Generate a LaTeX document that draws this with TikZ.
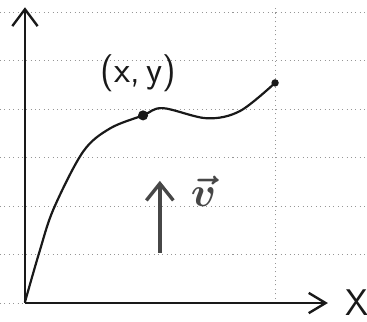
\documentclass[tikz,border=0pt]{standalone}
\usepackage{amsmath,amssymb}
\usepackage{tikz}
\usetikzlibrary{arrows.meta, positioning, calc}
\usepackage{xcolor}
\definecolor{gridgray}{RGB}{150, 150, 150}
\definecolor{inkblack}{RGB}{25, 25, 25}

\begin{document}
\begin{tikzpicture}[x=1cm, y=1.01cm,
  axis/.style={inkblack, line width=1.6pt, -{Straight Barb[length=10pt, width=15pt, line width=1.4pt]}},
  gridline/.style={gridgray, line width=0.6pt, dotted},
  curveline/.style={inkblack, line width=1.3pt},
  hand/.style={font=\sffamily\fontsize{22}{24}\selectfont, inkblack}]
  \useasboundingbox (-0.52,-0.39) rectangle (7.125,6.25);

  % 点线网格
  \foreach \gy in {1,...,6}
    \draw[gridline] (-0.52,\gy) -- (7.125,\gy);
  \draw[gridline] (-0.52,0) -- (0,0);
  \draw[gridline] (5.21,0) -- (5.21,6.1);

  % 坐标轴
  \coordinate (O) at (0,0);
  \coordinate (ytip) at (0,6.1);
  \coordinate (xtip) at (6.31,0);
  \draw[axis] (O) -- (ytip);
  \draw[axis, -{Straight Barb[length=10pt, width=12pt, line width=1.4pt]}] (O) -- (xtip);
  \node[hand, right=0.25cm of xtip] (xlab) {X};

  % 曲线 y(x)
  \coordinate (P) at (2.46,3.87);
  \coordinate (E) at (5.21,4.54);
  \draw[curveline] plot[smooth, tension=0.55] coordinates
    {(0,0.02) (0.3,1.05) (0.6,1.95) (1.21,3.12) (1.77,3.6) (2.46,3.87)
     (2.87,4.02) (3.79,3.81) (4.48,3.96) (5.21,4.54)};
  \fill[inkblack] (P) circle (3pt);
  \fill[inkblack] (E) circle (2.2pt);
  \node[hand] (plab) at (2.36,4.74) {(x,\,y)};

  % 速度方向
  \coordinate (vbot) at (2.81,1.04);
  \coordinate (vtop) at (2.81,2.52);
  \draw[inkblack!80, line width=2.2pt, -{Straight Barb[length=10pt, width=16pt, line width=2pt]}]
    (vbot) -- (vtop);
  \node[inkblack!80, font=\fontsize{30}{32}\selectfont] (vlab) at (3.72,2.3) {$\boldsymbol{\vec{v}}$};
\end{tikzpicture}
\end{document}
